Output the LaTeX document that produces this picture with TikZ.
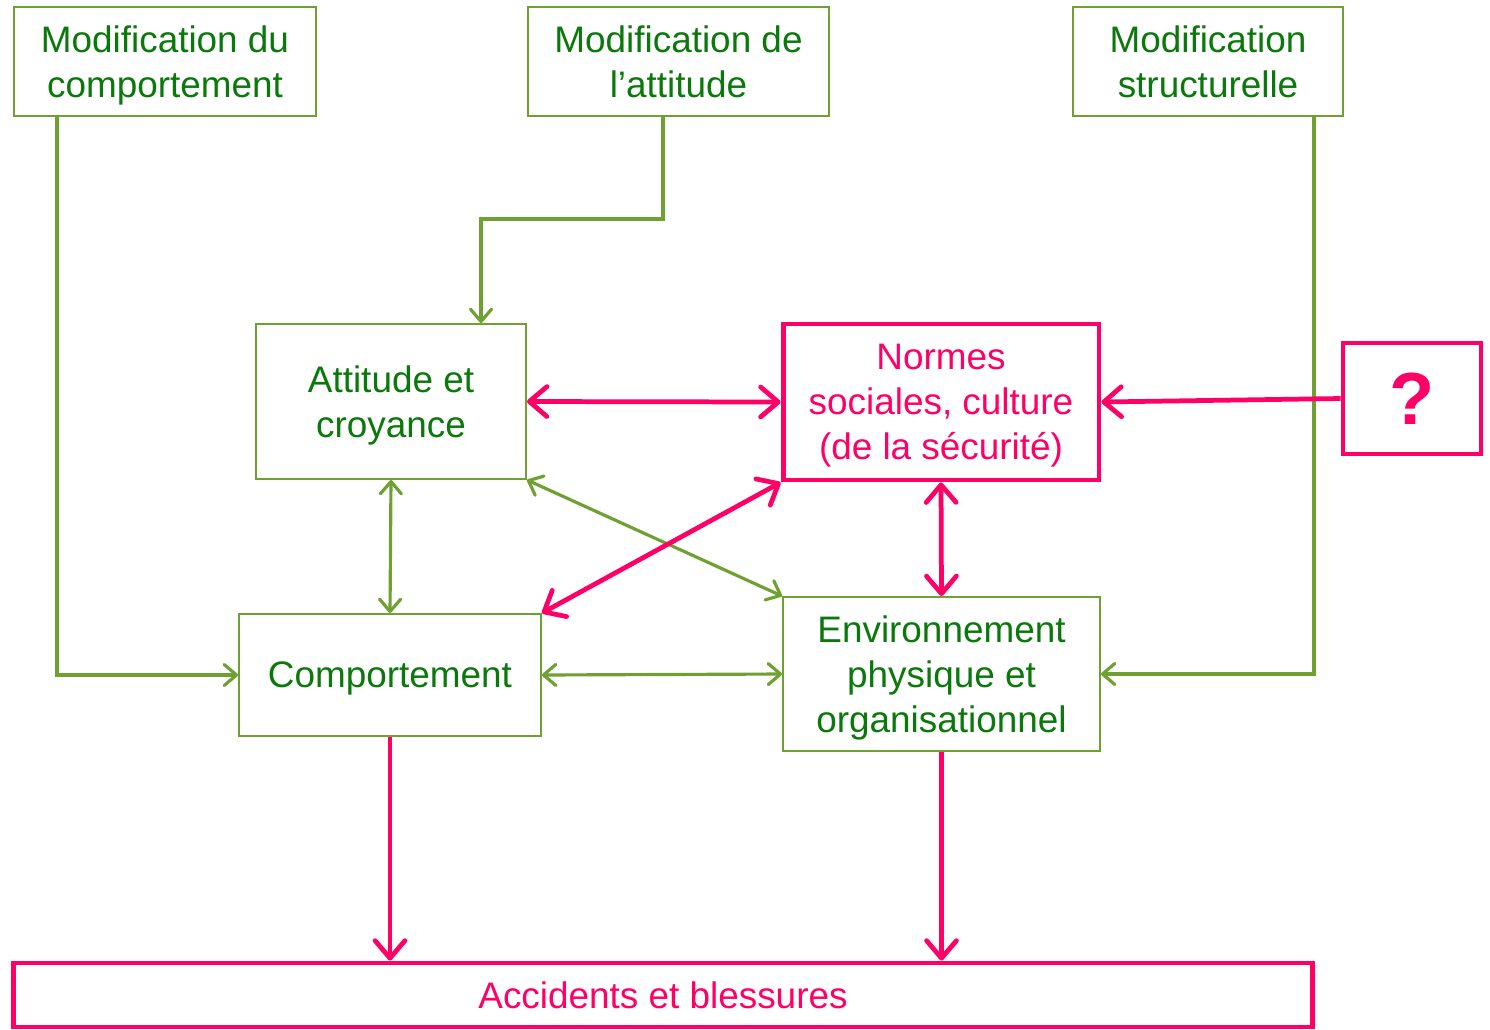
\documentclass[tikz,border=0pt]{standalone}
\usepackage{fontspec}
\setmainfont{Liberation Sans}
\usetikzlibrary{arrows.meta,calc}

\definecolor{vertTexte}{RGB}{10,120,10}
\definecolor{vertCadre}{RGB}{110,160,50}
\definecolor{rose}{RGB}{255,0,102}

\begin{document}
\begin{tikzpicture}[
        x=0.02cm, y=-0.02cm, % 1 unité = 1 pixel de l'image
        font=\fontsize{21}{25.6}\selectfont,
        boite/.style={draw=vertCadre, line width=1.1pt, text=vertTexte, align=center, inner sep=0pt, text depth=0pt}, % Cadres verts
        boiteRose/.style={draw=rose, line width=2.8pt, text=rose, align=center, inner sep=0pt, text depth=0pt}, % Cadres roses
        fleche/.style={draw=vertCadre, line width=1.8pt, -{Straight Barb[length=7pt, width=12pt, round]}},
        flecheDouble/.style={fleche, {Straight Barb[length=7pt, width=12pt, round]}-{Straight Barb[length=7pt, width=12pt, round]}},
        flecheRose/.style={draw=rose, line width=2.7pt, -{Straight Barb[length=10pt, width=17pt, round]}},
        flecheRoseDouble/.style={flecheRose, {Straight Barb[length=10pt, width=17pt, round]}-{Straight Barb[length=10pt, width=17pt, round]}},
    ]

    \useasboundingbox (0,0) rectangle (1490,1029);

    % Interventions
    \node[boite, minimum width=6.04cm, minimum height=2.18cm] (modComp) at (165,61.5) {Modification du\\comportement};
    \node[boite, minimum width=6.02cm, minimum height=2.18cm] (modAtt) at (678.5,61.5) {Modification de\\l’attitude};
    \node[boite, minimum width=5.4cm, minimum height=2.18cm] (modStruct) at (1208,61.5) {Modification\\structurelle};

    % Facteurs
    \node[boite, minimum width=5.4cm, minimum height=3.1cm] (attitude) at (391,401.5) {Attitude et\\croyance};
    \node[boiteRose, minimum width=6.32cm, minimum height=3.12cm] (normes) at (941,402) {Normes\\sociales, culture\\(de la sécurité)};
    \node[boiteRose, minimum width=2.76cm, minimum height=2.22cm, font=\fontsize{42}{42}\selectfont\bfseries] (inconnu) at (1412,398.5) {?};
    \node[boite, minimum width=6.04cm, minimum height=2.44cm] (comport) at (390,675) {Comportement};
    \node[boite, minimum width=6.34cm, minimum height=3.08cm] (environ) at (941.5,674) {Environnement\\physique et\\organisationnel};
    \node[boiteRose, minimum width=26cm, minimum height=1.28cm] (accidents) at (663,995) {Accidents et blessures};

    % Fleches vertes
    \draw[fleche] ($(modComp.south west)+(44,0)$) |- (comport.west);
    \draw[fleche] ($(modAtt.south)+(-15.5,0)$) -- ++(0,102) -| ($(attitude.north)+(90,0)$);
    \draw[fleche] ($(modStruct.south east)+(-30,0)$) |- (environ.east);
    \draw[flecheDouble] (attitude.south) -- (comport.north);
    \draw[flecheDouble] (attitude.south east) -- (environ.north west);
    \draw[flecheDouble] (comport.east) -- (environ.west);

    % Fleches roses
    \draw[flecheRose] (inconnu.west) -- (normes.east);
    \draw[flecheRoseDouble] (attitude.east) -- (normes.west);
    \draw[flecheRoseDouble] (normes.south west) -- (comport.north east);
    \draw[flecheRoseDouble] (normes.south) -- (environ.north);
    \draw[flecheRose] (comport.south) -- (comport.south |- accidents.north);
    \draw[flecheRose] (environ.south) -- (environ.south |- accidents.north);
\end{tikzpicture}
\end{document}
